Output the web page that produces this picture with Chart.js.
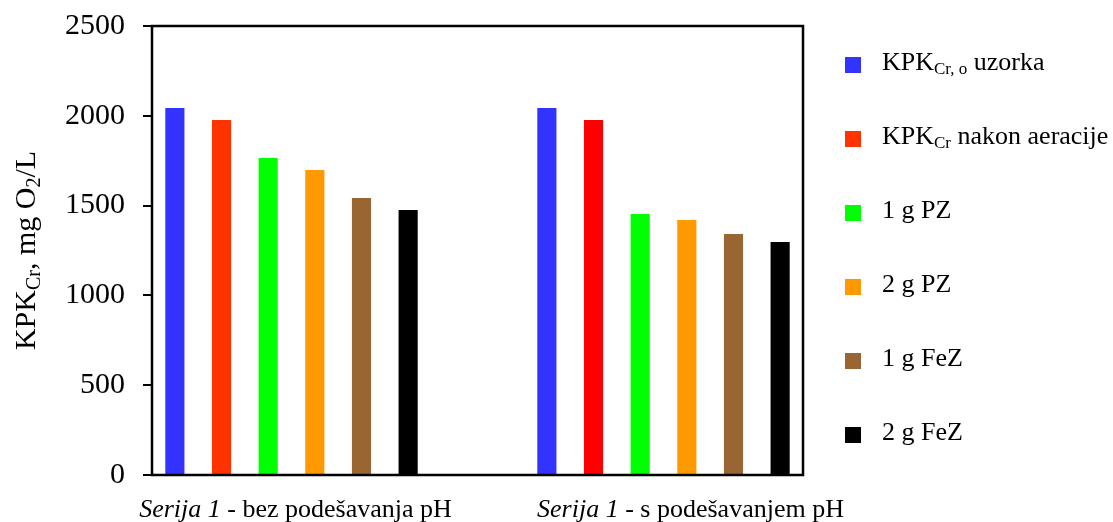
<!DOCTYPE html>
<html>
<head>
<meta charset="utf-8">
<script src="https://cdn.jsdelivr.net/npm/chart.js@4"></script>
<style>
  html, body { margin: 0; padding: 0; background: #fff; }
  #wrap { width: 1113px; height: 522px; position: relative; }
</style>
</head>
<body>
<div id="wrap"><canvas id="c"></canvas></div>
<script>
// ---------- data ----------
const groupPrefix = 'Serija 1';
const groupNames = [' - bez podešavanja pH', ' - s podešavanjem pH'];
const seriesLabels = ['KPKCr, o uzorka', 'KPKCr nakon aeracije', '1 g PZ', '2 g PZ', '1 g FeZ', '2 g FeZ'];
const kpkUzorka   = [2043, 2043];
const kpkAeracija = [1977, 1977];
const pz1  = [1765, 1453];
const pz2  = [1698, 1420];
const fez1 = [1542, 1342];
const fez2 = [1475, 1297];
const yTicks = [0, 500, 1000, 1500, 2000, 2500];

// ---------- layout helpers ----------
const FONT = '"Liberation Serif", "Times New Roman", serif';
const N_SLOTS = 7;
const slots = [1, 5];
const labels = Array(N_SLOTS).fill('');
slots.forEach((s, i) => labels[s] = groupPrefix + groupNames[i]);
function toSlots(vals) {
  const a = Array(N_SLOTS).fill(null);
  slots.forEach((s, i) => a[s] = vals[i]);
  return a;
}
const seriesValues = [kpkUzorka, kpkAeracija, pz1, pz2, fez1, fez2];
const seriesColors = [
  ['#3333FF', '#3333FF'],
  ['#FF3300', '#FF0000'],
  ['#00FF00', '#00FF00'],
  ['#FF9900', '#FF9900'],
  ['#996633', '#996633'],
  ['#000000', '#000000']
];
const legendColors = ['#3333FF', '#FF3300', '#00FF00', '#FF9900', '#996633', '#000000'];
const legendRich = [
  [{t: 'KPK'}, {t: 'Cr, o', sub: true}, {t: ' uzorka'}],
  [{t: 'KPK'}, {t: 'Cr', sub: true}, {t: ' nakon aeracije'}],
  [{t: seriesLabels[2]}],
  [{t: seriesLabels[3]}],
  [{t: seriesLabels[4]}],
  [{t: seriesLabels[5]}]
];
const yTitleRich = [{t: 'KPK'}, {t: 'Cr', sub: true}, {t: ', mg O'}, {t: '2', sub: true}, {t: '/L'}];

function segFont(seg, size) {
  const s = seg.sub ? Math.round(size * 0.65) : size;
  return (seg.italic ? 'italic ' : '') + s + 'px ' + FONT;
}
function richWidth(ctx, segs, size) {
  let w = 0;
  segs.forEach(seg => { ctx.font = segFont(seg, size); w += ctx.measureText(seg.t).width; });
  return w;
}
function drawRich(ctx, segs, x, y, size, align) {
  const w = richWidth(ctx, segs, size);
  let cx = align === 'center' ? x - w / 2 : (align === 'right' ? x - w : x);
  ctx.textBaseline = 'alphabetic';
  ctx.textAlign = 'left';
  segs.forEach(seg => {
    ctx.font = segFont(seg, size);
    const dy = seg.sub ? size * 0.17 : 0;
    ctx.fillText(seg.t, cx, y + dy);
    cx += ctx.measureText(seg.t).width;
  });
}

const decorPlugin = {
  id: 'decor',
  afterDraw(chart) {
    const ctx = chart.ctx;
    const a = chart.chartArea;
    ctx.save();
    // frame
    ctx.strokeStyle = '#000';
    ctx.lineWidth = 2.5;
    ctx.strokeRect(a.left, a.top, a.right - a.left, a.bottom - a.top);
    ctx.fillStyle = '#000';
    // x group labels
    const xs = chart.scales.x;
    const shifts = [4, 27];
    slots.forEach((s, i) => {
      const segs = [{t: groupPrefix, italic: true}, {t: groupNames[i]}];
      drawRich(ctx, segs, xs.getPixelForValue(s) + shifts[i], 517, 26, 'center');
    });
    // y title
    ctx.save();
    ctx.translate(35, (a.top + a.bottom) / 2);
    ctx.rotate(-Math.PI / 2);
    drawRich(ctx, yTitleRich, 0, 0, 30, 'center');
    ctx.restore();
    // legend
    legendRich.forEach((segs, i) => {
      const cy = 65 + i * 74;
      ctx.fillStyle = legendColors[i];
      ctx.fillRect(845, cy - 8, 16, 16);
      ctx.fillStyle = '#000';
      drawRich(ctx, segs, 882, cy + 5, 26, 'left');
    });
    ctx.restore();
  }
};

new Chart(document.getElementById('c'), {
  type: 'bar',
  data: {
    labels: labels,
    datasets: seriesValues.map((vals, i) => ({
      label: seriesLabels[i],
      data: toSlots(vals),
      backgroundColor: toSlots(seriesColors[i]),
      borderWidth: 0,
      categoryPercentage: 3.01,
      barPercentage: 0.41
    }))
  },
  options: {
    responsive: true,
    maintainAspectRatio: false,
    animation: false,
    devicePixelRatio: 1,
    layout: { padding: { left: 0, right: 310, top: 26, bottom: 47 } },
    plugins: { legend: { display: false }, tooltip: { enabled: false } },
    scales: {
      x: {
        type: 'category',
        grid: { display: false },
        border: { display: false },
        ticks: { display: false },
        afterFit(s) { s.height = 0; s.paddingLeft = 0; s.paddingRight = 0; }
      },
      y: {
        min: 0,
        max: 2500,
        afterBuildTicks(s) { s.ticks = yTicks.map(v => ({ value: v })); },
        ticks: {
          color: '#000', padding: 18, font: { family: FONT, size: 30 },
          callback: v => String(v)
        },
        grid: { drawOnChartArea: false, drawTicks: true, tickLength: 9, color: '#000', lineWidth: 2 },
        border: { display: false },
        afterFit(s) { s.width = 152; s.paddingTop = 0; s.paddingBottom = 0; }
      }
    }
  },
  plugins: [decorPlugin]
});
</script>
</body>
</html>
